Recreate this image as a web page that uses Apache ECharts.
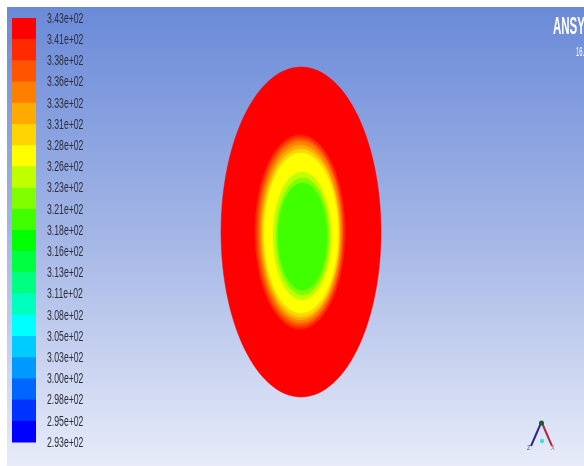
<!DOCTYPE html>
<html><head><meta charset="utf-8">
<script src="https://cdn.jsdelivr.net/npm/echarts@6/dist/echarts.min.js"></script>
<style>html,body{margin:0;padding:0;background:#fff}#c{width:584px;height:466px}</style>
</head><body><div id="c"></div>
<script>
// Colour-bar tick labels (top to bottom)
const tickLabels = ['3.43e+02','3.41e+02','3.38e+02','3.36e+02','3.33e+02','3.31e+02','3.28e+02','3.26e+02','3.23e+02','3.21e+02','3.18e+02','3.16e+02','3.13e+02','3.11e+02','3.08e+02','3.05e+02','3.03e+02','3.00e+02','2.98e+02','2.95e+02','2.93e+02'];
// Band colours (top band = hottest)
const bandColors = ['#ff0000','#ff2a00','#ff5500','#ff8000','#ffaa00','#ffd400','#ffff00','#bfff00','#80ff00','#40ff00','#00ff00','#00ff40','#00ff80','#00ffbf','#00ffff','#00ccff','#0099ff','#0066ff','#0033ff','#0000ff'];
const bandIndex = [0,1,2,3,4,5,6,7,8,9,10,11,12,13,14,15,16,17,18,19];
// Isotherm regions (model units, outer to inner): band, centre x, centre y, semi-axis x, semi-axis y
const contourBand = [0, 1, 2, 3, 4, 5, 6, 7, 8, 9];
const contourCx   = [0, -1, -1, -0.5, -0.5, 0, 0, 1, 1.5, 1.5];
const contourCy   = [0, 0, 0, 0, -0.5, -1, -1, -4, -4.5, -4.5];
const contourRx   = [80, 45, 43, 41.5, 39.5, 38.5, 37, 29, 26.5, 24.5];
const contourRy   = [165, 97, 94, 91, 87.5, 84, 80, 64, 58.5, 53.5];

const contourData = contourBand.map((b, i) => [b, contourCx[i], contourCy[i], contourRx[i], contourRy[i]]);
const legendData = bandIndex.map(i => [0, i]);
const nBands = bandIndex.length;

const chart = echarts.init(document.getElementById('c'), null, {renderer: 'canvas'});
const baseGraphics = [
  {type: 'rect', z: -10, silent: true, shape: {x: 7, y: 7, width: 577, height: 459},
   style: {fill: new echarts.graphic.LinearGradient(0, 0, 0, 1, [
     {offset: 0, color: '#6a8ad8'}, {offset: 0.5, color: '#a4b6e6'}, {offset: 1, color: '#e8ecf9'}])}},
  {type: 'text', x: 553, y: 16, z: 10, scaleX: 0.5, style: {text: 'ANSYS', fill: '#ffffff', font: "bold 23px 'Liberation Sans', sans-serif", textVerticalAlign: 'top'}},
  {type: 'text', x: 576, y: 47, z: 10, scaleX: 0.5, style: {text: '16.0', fill: '#ffffff', font: "12px 'Liberation Sans', sans-serif", textVerticalAlign: 'top'}},
  {type: 'line', z: 10, shape: {x1: 541, y1: 423, x2: 531, y2: 446}, style: {stroke: '#2b2b88', lineWidth: 2}},
  {type: 'line', z: 10, shape: {x1: 542, y1: 423, x2: 552, y2: 446}, style: {stroke: '#a83040', lineWidth: 2}},
  {type: 'circle', z: 11, shape: {cx: 541.5, cy: 423, r: 2.5}, style: {fill: '#1d5a2a'}},
  {type: 'circle', z: 11, shape: {cx: 542, cy: 441, r: 2.2}, style: {fill: '#3ee0e0'}},
  {type: 'text', x: 527, y: 444, z: 11, scaleX: 0.7, style: {text: 'Z', fill: '#4050a0', font: "8px 'Liberation Sans', sans-serif", textVerticalAlign: 'top'}},
  {type: 'text', x: 551, y: 444, z: 11, scaleX: 0.7, style: {text: 'X', fill: '#d05050', font: "8px 'Liberation Sans', sans-serif", textVerticalAlign: 'top'}}
];
chart.setOption({
  animation: false,
  backgroundColor: '#ffffff',
  graphic: baseGraphics,
  grid: [
    {left: 221, top: 67, width: 160, height: 330},
    {left: 12, top: 18, width: 24, height: 424}
  ],
  xAxis: [
    {gridIndex: 0, type: 'value', min: -80, max: 80, show: false},
    {gridIndex: 1, type: 'category', data: ['T'], show: false}
  ],
  yAxis: [
    {gridIndex: 0, type: 'value', min: -165, max: 165, show: false},
    {gridIndex: 1, type: 'value', min: 0, max: nBands, interval: 1, position: 'right',
     axisLine: {show: false}, axisTick: {show: false}, splitLine: {show: false},
     axisLabel: {show: false}}
  ],
  series: [
    {type: 'custom', xAxisIndex: 0, yAxisIndex: 0, clip: false, data: contourData,
     renderItem: (params, api) => {
       const b = api.value(0), cx = api.value(1), cy = api.value(2), rx = api.value(3), ry = api.value(4);
       const pts = [];
       for (let k = 0; k < 120; k++) {
         const a = k / 120 * Math.PI * 2;
         pts.push(api.coord([cx + rx * Math.cos(a), cy + ry * Math.sin(a)]));
       }
       return {type: 'polygon', shape: {points: pts}, style: {fill: bandColors[b], stroke: bandColors[b], lineWidth: 0.5}};
     }},
    {type: 'custom', xAxisIndex: 1, yAxisIndex: 1, data: legendData,
     renderItem: (params, api) => {
       const i = api.value(1);
       const top = api.coord([0, nBands - i]);
       const bot = api.coord([0, nBands - i - 1]);
       const w = api.size([1, 0])[0];
       return {type: 'rect', shape: {x: top[0] - w / 2, y: top[1], width: w, height: bot[1] - top[1] + 0.5},
               style: {fill: bandColors[i]}};
     }}
  ]
});
// Colour-bar tick labels placed through the colour-bar axis scale (condensed, like the Fluent legend)
const barRight = chart.convertToPixel({xAxisIndex: 1}, 'T') + 12;
const labelGraphics = tickLabels.map((t, k) => ({
  type: 'text', z: 12, x: barRight + 11, y: chart.convertToPixel({yAxisIndex: 1}, nBands - k) + 1,
  scaleX: 0.62,
  style: {text: t, fill: '#2e2e3a', font: "14px 'Liberation Sans', sans-serif", textVerticalAlign: 'middle'}
}));
chart.setOption({graphic: baseGraphics.concat(labelGraphics)});
</script></body></html>
